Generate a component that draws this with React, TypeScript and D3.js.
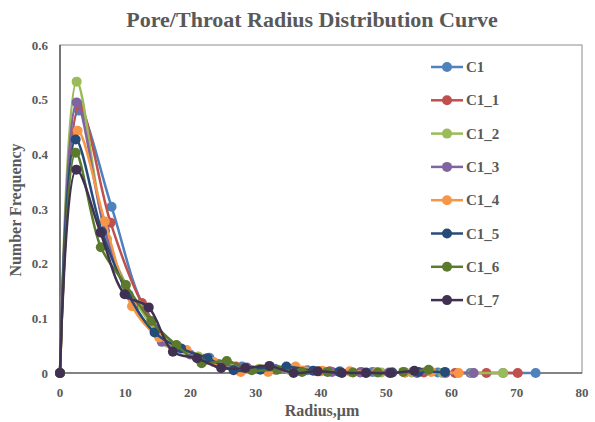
import React from "react";
import * as d3 from "d3";

const seriesNames = ["C1", "C1_1", "C1_2", "C1_3", "C1_4", "C1_5", "C1_6", "C1_7"];
const seriesColors = ["#4F81BD", "#C0504D", "#9BBB59", "#8064A2", "#F79646", "#254C78", "#5B7A2E", "#403152"];

const xC1 = [0, 2.9, 7.9, 12.9, 17.9, 22.9, 27.9, 32.9, 37.9, 42.9, 47.9, 52.9, 57.9, 62.9, 67.9, 72.9];
const yC1 = [0, 0.48, 0.304, 0.12, 0.05, 0.028, 0.012, 0.008, 0.005, 0.003, 0.002, 0.001, 0.001, 0, 0, 0];

const xC1_1 = [0, 2.95, 7.75, 12.55, 17.35, 22.15, 26.95, 31.75, 36.55, 41.35, 46.15, 50.95, 55.75, 60.55, 65.35, 70.15];
const yC1_1 = [0, 0.49, 0.275, 0.128, 0.048, 0.026, 0.012, 0.007, 0.004, 0.003, 0.002, 0.001, 0.001, 0, 0, 0];

const xC1_2 = [0, 2.55, 7.2, 11.9, 16.55, 21.2, 25.9, 30.55, 35.2, 39.9, 44.6, 49.25, 53.9, 58.6, 63.25, 67.9];
const yC1_2 = [0, 0.533, 0.245, 0.125, 0.055, 0.03, 0.015, 0.008, 0.005, 0.003, 0.002, 0.001, 0.001, 0, 0, 0];

const xC1_3 = [0, 2.55, 6.9, 11.25, 15.6, 19.95, 24.3, 28.65, 33.0, 37.3, 41.7, 46.0, 50.4, 54.7, 59.1, 63.4];
const yC1_3 = [0, 0.495, 0.26, 0.125, 0.057, 0.034, 0.016, 0.01, 0.006, 0.004, 0.002, 0.001, 0.001, 0, 0, 0];

const xC1_4 = [0, 2.7, 6.87, 11.04, 15.2, 19.4, 23.55, 27.7, 31.9, 36.1, 40.2, 44.4, 48.6, 52.8, 56.9, 61.1];
const yC1_4 = [0, 0.443, 0.277, 0.122, 0.065, 0.042, 0.02, 0.002, 0.002, 0.012, 0.004, 0.003, 0.002, 0.001, 0.002, 0];

const xC1_5 = [0, 2.4, 6.44, 10.5, 14.5, 18.55, 22.6, 26.6, 30.7, 34.7, 38.8, 42.8, 46.9, 50.9, 54.95, 59.0];
const yC1_5 = [0, 0.427, 0.258, 0.143, 0.074, 0.045, 0.027, 0.005, 0.006, 0.012, 0.004, 0.002, 0.001, 0.001, 0.002, 0.002];

const xC1_6 = [0, 2.4, 6.26, 10.1, 14.0, 17.84, 21.7, 25.56, 29.4, 33.3, 37.1, 41.0, 44.9, 48.7, 52.6, 56.5];
const yC1_6 = [0, 0.403, 0.23, 0.161, 0.095, 0.051, 0.018, 0.022, 0.005, 0.006, 0.002, 0.002, 0.001, 0.001, 0.002, 0.006];

const xC1_7 = [0, 2.5, 6.2, 9.9, 13.6, 17.3, 21.0, 24.7, 28.4, 32.1, 35.8, 39.5, 43.2, 46.9, 50.6, 54.3];
const yC1_7 = [0, 0.372, 0.257, 0.144, 0.12, 0.039, 0.027, 0.009, 0.009, 0.013, 0, 0.003, 0, 0, 0, 0.004];

const seriesX = [xC1, xC1_1, xC1_2, xC1_3, xC1_4, xC1_5, xC1_6, xC1_7];
const seriesY = [yC1, yC1_1, yC1_2, yC1_3, yC1_4, yC1_5, yC1_6, yC1_7];

const xTicks = [0, 10, 20, 30, 40, 50, 60, 70, 80];
const yTicks = [0, 0.1, 0.2, 0.3, 0.4, 0.5, 0.6];

const W = 595;
const H = 422;
const M = { left: 60, right: 582, top: 45, bottom: 373 };
const FONT = "'Liberation Serif', 'Times New Roman', serif";
const TEXT = "#595959";

export default function App() {
  const x = d3.scaleLinear().domain([0, 80]).range([M.left, M.right]);
  const y = d3.scaleLinear().domain([0, 0.6]).range([M.bottom, M.top]);
  const line = d3
    .line<[number, number]>()
    .x((d) => x(d[0]))
    .y((d) => y(d[1]))
    .curve(d3.curveCatmullRom.alpha(0.5));

  return (
    <svg
      width={W}
      height={H}
      style={{ position: "absolute", left: 0, top: 0, background: "#fff" }}
      fontFamily={FONT}
    >
      <rect x={0} y={0} width={W} height={H} fill="#fff" />
      <text x={312} y={27} textAnchor="middle" fontSize={22} fontWeight="bold" fill={TEXT}>
        Pore/Throat  Radius Distribution Curve
      </text>
      {/* plot border */}
      <rect
        x={M.left}
        y={M.top}
        width={M.right - M.left}
        height={M.bottom - M.top}
        fill="none"
        stroke="#8c8c8c"
        strokeWidth={1}
      />
      <line x1={M.left} x2={M.right} y1={M.bottom} y2={M.bottom} stroke="#404040" strokeWidth={1.2} />
      <line x1={M.left} x2={M.left} y1={M.top} y2={M.bottom} stroke="#404040" strokeWidth={1.2} />
      {yTicks.map((t) => (
        <text
          key={"y" + t}
          x={48}
          y={y(t) + 4.5}
          textAnchor="end"
          fontSize={13}
          fontWeight="bold"
          fill={TEXT}
        >
          {t === 0 ? "0" : t.toFixed(1)}
        </text>
      ))}
      {xTicks.map((t) => (
        <text
          key={"x" + t}
          x={x(t)}
          y={397}
          textAnchor="middle"
          fontSize={13}
          fontWeight="bold"
          fill={TEXT}
        >
          {t}
        </text>
      ))}
      <text x={322} y={416} textAnchor="middle" fontSize={16} fontWeight="bold" fill={TEXT}>
        Radius,μm
      </text>
      <text
        transform={`translate(21,${(M.top + M.bottom) / 2 + 1}) rotate(-90)`}
        textAnchor="middle"
        fontSize={16}
        fontWeight="bold"
        fill={TEXT}
      >
        Number Frequency
      </text>
      {seriesNames.map((name, i) => {
        const pts: [number, number][] = seriesX[i].map((xv, j) => [xv, seriesY[i][j]]);
        return (
          <g key={name}>
            <path d={line(pts) || ""} fill="none" stroke={seriesColors[i]} strokeWidth={2.5} />
            {pts.map((p, j) => (
              <circle key={j} cx={x(p[0])} cy={y(p[1])} r={5} fill={seriesColors[i]} />
            ))}
          </g>
        );
      })}
      {seriesNames.map((name, i) => {
        const ly = 67 + i * 33.3;
        return (
          <g key={"lg" + name}>
            <line x1={431} x2={463} y1={ly} y2={ly} stroke={seriesColors[i]} strokeWidth={2.5} />
            <circle cx={447} cy={ly} r={5} fill={seriesColors[i]} />
            <text x={466} y={ly + 5} fontSize={15} fontWeight="bold" fill={TEXT}>
              {name}
            </text>
          </g>
        );
      })}
    </svg>
  );
}
